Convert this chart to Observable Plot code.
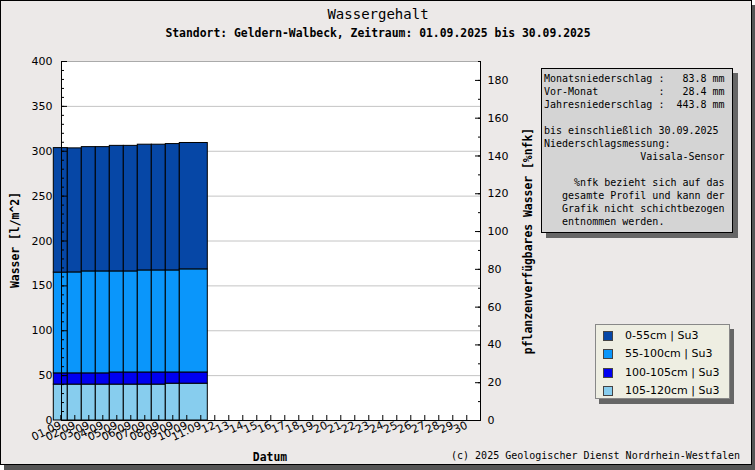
<!DOCTYPE html>
<html><head><meta charset="utf-8">
<script src="https://cdn.jsdelivr.net/npm/d3@7"></script>
<script src="https://cdn.jsdelivr.net/npm/@observablehq/plot@0.6"></script>
<style>
html,body{margin:0;padding:0;background:#fff;}
#wrap{position:relative;width:755px;height:470px;overflow:hidden;}
#frame{position:absolute;left:0;top:0;width:750px;height:463px;border:1px solid #000;background:#ece9e8;box-shadow:4px 5px 0 #555;}
#chart{position:absolute;left:0;top:0;}
.t{position:absolute;white-space:pre;color:#000;}
.mono{font-family:"DejaVu Sans Mono",monospace;}
.rot{transform:translate(-50%,-50%) rotate(-90deg);}
.ctr{transform:translate(-50%,-50%);}
#info{position:absolute;left:541px;top:68px;width:188px;height:160px;border:1px solid #000;background:#d4d4d4;box-shadow:5px 5px 0 #666;font-family:"DejaVu Sans Mono",monospace;font-size:10px;line-height:13px;padding:3px 0 0 2px;box-sizing:content-box;white-space:pre;}
#legend{position:absolute;left:595px;top:324px;width:133px;height:73px;border:1px solid #888;background:#eeeee2;box-shadow:4px 5px 0 #666;font-family:"DejaVu Sans",sans-serif;font-size:11px;}
.li{position:absolute;left:7px;height:12px;line-height:12px;}
.sw{display:inline-block;width:10px;height:10px;border:1px solid #444;vertical-align:middle;margin-right:12px;box-sizing:border-box;}
</style>
</head><body>
<div id="wrap">
  <div id="frame"></div>
  <div id="chart"></div>
</div>
<script>
// ---- data ----
const dayStart = [1, 2, 3, 4, 5, 6, 7, 8, 9, 10];
const dayEnd   = [1, 2, 3, 4, 5, 6, 7, 8, 9, 11];
const layerNames  = ["0-55cm | Su3", "55-100cm | Su3", "100-105cm | Su3", "105-120cm | Su3"];
const layerColors = ["#0647a6", "#0a96fb", "#0000f0", "#87cdee"];
const layer0_55    = [138.7, 138.2, 138.5, 138.5, 139.9, 139.9, 140.1, 140.1, 140.8, 140.8];
const layer55_100  = [112.3, 112.5, 113.6, 113.6, 112.6, 112.6, 113.7, 113.7, 113.7, 114.9];
const layer100_105 = [12.5, 12.5, 12.5, 12.5, 13.5, 13.5, 13.5, 13.5, 12.5, 12.5];
const layer105_120 = [40, 40, 40, 40, 40, 40, 40, 40, 41, 41];
const xTickDays = d3.range(1, 31);
const xTickLabels = xTickDays.map(d => d <= 11 ? String(d).padStart(2, "0") + ".09" : String(d));
const leftMajor = [0, 50, 100, 150, 200, 250, 300, 350, 400];
const leftMinor = d3.range(0, 401, 10);
const rightMajor = [0, 20, 40, 60, 80, 100, 120, 140, 160, 180];
const rightMinor = d3.range(0, 191, 10);
const gridValues = [50, 100, 150, 200, 250, 300, 350];
const yMax = 400, nfkMax = 190;

const title = "Wassergehalt";
const subtitle = "Standort: Geldern-Walbeck, Zeitraum: 01.09.2025 bis 30.09.2025";
const yLabelLeft = "Wasser [l/m^2]";
const yLabelRight = "pflanzenverfügbares Wasser [%nfk]";
const xLabel = "Datum";
const footer = "(c) 2025 Geologischer Dienst Nordrhein-Westfalen";
const infoLines = [
  "Monatsniederschlag :   83.8 mm",
  "Vor-Monat          :   28.4 mm",
  "Jahresniederschlag :  443.8 mm",
  "",
  "bis einschließlich 30.09.2025",
  "Niederschlagsmessung:",
  "                Vaisala-Sensor",
  "",
  "     %nfk bezieht sich auf das",
  "   gesamte Profil und kann der",
  "   Grafik nicht schichtbezogen",
  "   entnommen werden."
];

// ---- build stacked rects (bottom layer first) ----
const layersBottomUp = [
  {name: layerNames[3], v: layer105_120},
  {name: layerNames[2], v: layer100_105},
  {name: layerNames[1], v: layer55_100},
  {name: layerNames[0], v: layer0_55}
];
const rows = [];
dayStart.forEach((d, i) => {
  let acc = 0;
  for (const L of layersBottomUp) {
    rows.push({x1: d - 0.5, x2: dayEnd[i] + 0.5, y1: acc, y2: acc + L.v[i], layer: L.name});
    acc += L.v[i];
  }
});
const toL = v => v * yMax / nfkMax;
const xDom = [1.05, 30.98];

const plot = Plot.plot({
  width: 755, height: 470,
  marginLeft: 61, marginRight: 275, marginTop: 61, marginBottom: 50,
  style: {background: "transparent", fontFamily: "DejaVu Sans, sans-serif", fontSize: "11px", overflow: "visible"},
  x: {domain: xDom},
  y: {domain: [0, yMax]},
  color: {domain: layerNames, range: layerColors},
  marks: [
    Plot.frame({fill: "white", stroke: null}),
    Plot.gridY(gridValues, {stroke: "#c4c4c4", strokeOpacity: 1}),
    Plot.ruleY([yMax], {stroke: "#aaa"}),
    Plot.rect(rows, {x1: "x1", x2: "x2", y1: "y1", y2: "y2", fill: "layer", stroke: "#000", strokeWidth: 1}),
    Plot.ruleX([xDom[0], xDom[1]], {stroke: "#000"}),
    Plot.ruleY([0], {stroke: "#000"}),
    // left axis
    Plot.axisY(leftMajor, {anchor: "left", tickSize: 6, dx: 6, text: null, stroke: "#000"}),
    Plot.axisY(leftMinor, {anchor: "left", tickSize: 3, dx: 3, text: null, stroke: "#000"}),
    Plot.axisY(leftMajor, {anchor: "left", tickSize: 0, tickPadding: 9, label: null, fill: "#000"}),
    // right axis
    Plot.axisY(rightMajor.map(toL), {anchor: "right", tickSize: 6, dx: -6, text: null, stroke: "#000"}),
    Plot.axisY(rightMinor.map(toL), {anchor: "right", tickSize: 3, dx: -3, text: null, stroke: "#000"}),
    Plot.axisY(rightMajor.map(toL), {anchor: "right", tickSize: 0, tickPadding: 7, label: null, fill: "#000",
      tickFormat: d => String(Math.round(d * nfkMax / yMax))}),
    // x axis
    Plot.axisX(xTickDays, {anchor: "bottom", tickSize: 5, dy: -5, text: null, stroke: "#000"}),
    Plot.axisX(xTickDays, {anchor: "bottom", tickSize: 0, tickPadding: 4, tickRotate: -25, label: null, fill: "#000",
      tickFormat: d => xTickLabels[d - 1]})
  ]
});
document.getElementById("chart").appendChild(plot);

// ---- text overlays ----
const wrap = document.getElementById("wrap");
function addText(txt, x, y, cls, style) {
  const el = document.createElement("div");
  el.className = "t " + cls;
  el.textContent = txt;
  el.style.left = x + "px"; el.style.top = y + "px";
  Object.assign(el.style, style || {});
  wrap.appendChild(el);
  return el;
}
addText(title, 378, 14, "mono ctr", {fontSize: "14px"});
addText(subtitle, 378, 33, "mono ctr", {fontSize: "11.4px", fontWeight: "bold"});
addText(yLabelLeft, 15, 240, "mono rot", {fontSize: "11.4px", fontWeight: "bold"});
addText(yLabelRight, 528, 241, "mono rot", {fontSize: "11.4px", fontWeight: "bold"});
addText(xLabel, 270, 457, "mono ctr", {fontSize: "11.4px", fontWeight: "bold"});
addText(footer, 740, 455, "mono", {fontSize: "10px", transform: "translate(-100%,-50%)"});

const info = document.createElement("div");
info.id = "info";
info.textContent = infoLines.join("\n");
wrap.appendChild(info);

const legend = document.createElement("div");
legend.id = "legend";
layerNames.forEach((n, i) => {
  const li = document.createElement("div");
  li.className = "li";
  li.style.top = (5 + i * 18.3) + "px";
  const sw = document.createElement("span");
  sw.className = "sw";
  sw.style.background = layerColors[i];
  li.appendChild(sw);
  li.appendChild(document.createTextNode(n));
  legend.appendChild(li);
});
wrap.appendChild(legend);
</script>
</body></html>
